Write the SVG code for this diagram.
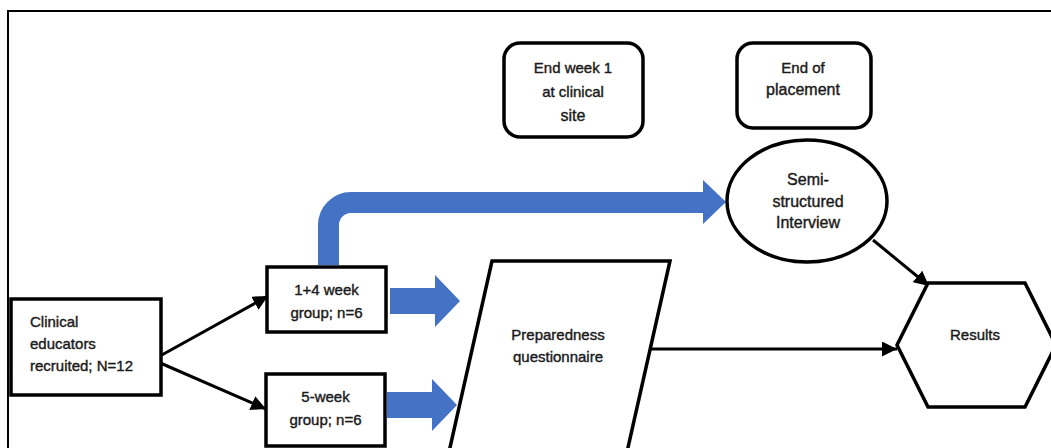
<svg xmlns="http://www.w3.org/2000/svg" width="1051" height="448" viewBox="0 0 1051 448">
<style>
.box{fill:#fff;stroke:#000;stroke-width:3.5}
.t{font-family:"Liberation Sans",Arial,sans-serif;font-size:15px;fill:#1a1a1a;stroke:#1a1a1a;stroke-width:0.4}
.c{text-anchor:middle}
.big{font-size:16px}
.con{stroke:#000;stroke-width:3;fill:none}
.blue{fill:#4472C4}
</style>
<defs>
<marker id="ah" markerUnits="userSpaceOnUse" markerWidth="17" markerHeight="15" refX="15" refY="7.5" orient="auto">
<path d="M0,0 L15,7.5 L0,15 Z" fill="#000"/>
</marker>
</defs>
<rect x="0" y="0" width="1051" height="448" fill="#fff"/>
<rect x="8" y="11" width="1060" height="460" fill="none" stroke="#000" stroke-width="2"/>

<g id="connectors">
<line class="con" x1="160" y1="356" x2="268" y2="296" marker-end="url(#ah)"/>
<line class="con" x1="158" y1="362" x2="266" y2="409" marker-end="url(#ah)"/>
<line class="con" x1="651" y1="349" x2="897" y2="349" marker-end="url(#ah)"/>
<line class="con" x1="873" y1="240" x2="929" y2="286" marker-end="url(#ah)"/>
<path class="blue" d="M390,288 H435 V275 L460,301 L435,327 V314 H390 Z"/>
<path class="blue" d="M387,392 H432 V379 L457,405 L432,431 V418 H387 Z"/>
<path d="M328.5,265 V225 A22.5,22.5 0 0 1 351,202.5 H704" fill="none" stroke="#4472C4" stroke-width="21"/>
<path class="blue" d="M703,180 L726,202 L703,224 Z"/>
</g>

<g id="n_clinical">
<rect class="box" x="11" y="299" width="150" height="96"/>
<text class="t" x="30" y="327">Clinical</text>
<text class="t" x="30" y="349">educators</text>
<text class="t" x="30" y="371">recruited; N=12</text>
</g>

<g id="n_14week">
<rect class="box" x="267" y="267" width="119" height="65"/>
<text class="t c" x="326.5" y="295">1+4 week</text>
<text class="t c" x="326.5" y="318">group; n=6</text>
</g>

<g id="n_5week">
<rect class="box" x="266" y="374" width="119" height="72"/>
<text class="t c" x="325.5" y="402">5-week</text>
<text class="t c" x="325.5" y="425">group; n=6</text>
</g>

<g id="n_endweek1">
<rect class="box" x="504" y="43" width="139" height="94" rx="16"/>
<text class="t c" x="573" y="73">End week 1</text>
<text class="t c" x="573" y="97">at clinical</text>
<text class="t c big" x="573" y="121">site</text>
</g>

<g id="n_endplacement">
<rect class="box" x="737" y="43" width="134" height="85" rx="16"/>
<text class="t c" x="803" y="73">End of</text>
<text class="t c big" x="803" y="95">placement</text>
</g>

<g id="n_interview">
<ellipse class="box" cx="807" cy="201" rx="80" ry="61"/>
<text class="t c big" x="808" y="185">Semi-</text>
<text class="t c big" x="808" y="207">structured</text>
<text class="t c big" x="808" y="228">Interview</text>
</g>

<g id="n_questionnaire">
<path class="box" d="M492,261 H670 L627,452 H449 Z"/>
<text class="t c" x="558" y="340">Preparedness</text>
<text class="t c" x="558" y="362">questionnaire</text>
</g>

<g id="n_results">
<path class="box" d="M928,283 H1025 L1056,345 L1025,407 H928 L897,345 Z"/>
<text class="t c" x="975" y="340">Results</text>
</g>
</svg>
